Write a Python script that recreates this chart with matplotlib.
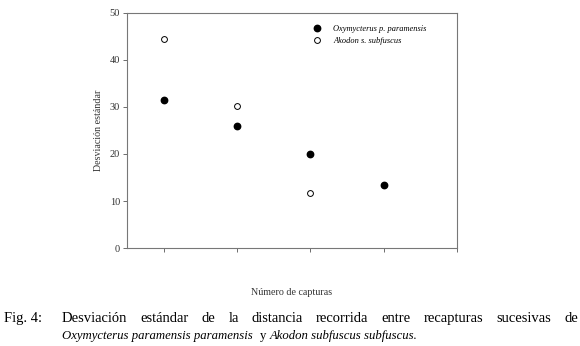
import matplotlib
matplotlib.use('Agg')
import matplotlib.pyplot as plt

# datos
capturas = [1, 2, 3, 4]
oxymycterus = [31.5, 25.9, 20.0, 13.3]
akodon_x = [1, 2, 3]
akodon = [44.4, 30.3, 11.7]

y_ticks = [0, 10, 20, 30, 40, 50]

plt.rcParams['font.family'] = ['Liberation Serif', 'DejaVu Serif']

fig = plt.figure(figsize=(5.8, 3.46), dpi=100)
ax = fig.add_axes([0.219, 0.283, 0.569, 0.68])

ax.plot(capturas, oxymycterus, 'o', color='black', markersize=4.6,
        label='Oxymycterus p. paramensis')
ax.plot(akodon_x, akodon, 'o', markerfacecolor='white', markeredgecolor='black',
        markeredgewidth=0.7, markersize=4.2, label='Akodon s. subfuscus')

ax.set_xlim(0.5, 5)
ax.set_ylim(0, 50)
ax.set_xticks([1, 2, 3, 4, 5])
ax.set_xticklabels([])
ax.set_yticks(y_ticks)
ax.set_yticklabels([str(t) for t in y_ticks], fontsize=7.5, color='#333333')
ax.tick_params(length=3, width=0.6, color='#555555', pad=2)
for s in ax.spines.values():
    s.set_color('#777777')
    s.set_linewidth(0.8)

ax.set_ylabel('Desviación estándar', fontsize=7.2, color='#333333', labelpad=5)
ax.set_xlabel('Número de capturas', fontsize=7.2, color='#333333', labelpad=24)

leg = ax.legend(loc='upper right', frameon=False, prop={'style': 'italic', 'size': 6.0},
                handletextpad=0.9, borderaxespad=0.3, bbox_to_anchor=(0.925, 0.975),
                labelspacing=0.5)

# pie de figura, primera linea justificada
fs = 10.5
y1 = 1 - 322 / 346
fig.text(4 / 580, y1, 'Fig. 4:', fontsize=fs, va='baseline', ha='left')
linea1 = 'Desviación estándar de la distancia recorrida entre recapturas sucesivas de'.split()
x0, x1 = 62 / 580, 578 / 580
renderer = fig.canvas.get_renderer()
objs = [fig.text(0, y1, w, fontsize=fs, va='baseline', ha='left') for w in linea1]
anchos = [o.get_window_extent(renderer).width / fig.bbox.width for o in objs]
hueco = (x1 - x0 - sum(anchos)) / (len(objs) - 1)
x = x0
for o, a in zip(objs, anchos):
    o.set_x(x)
    x += a + hueco

fs2 = 9.2
y2 = 1 - 339 / 346
t = fig.text(x0, y2, 'Oxymycterus paramensis paramensis', fontsize=fs2, style='italic',
             va='baseline', ha='left')
w = t.get_window_extent(renderer).width / fig.bbox.width
t2 = fig.text(x0 + w + 0.012, y2, 'y', fontsize=fs2, va='baseline', ha='left')
w2 = t2.get_window_extent(renderer).width / fig.bbox.width
fig.text(x0 + w + 0.012 + w2 + 0.007, y2, 'Akodon subfuscus subfuscus.', fontsize=fs2,
         style='italic', va='baseline', ha='left')

fig.savefig('out.png', dpi=100)
